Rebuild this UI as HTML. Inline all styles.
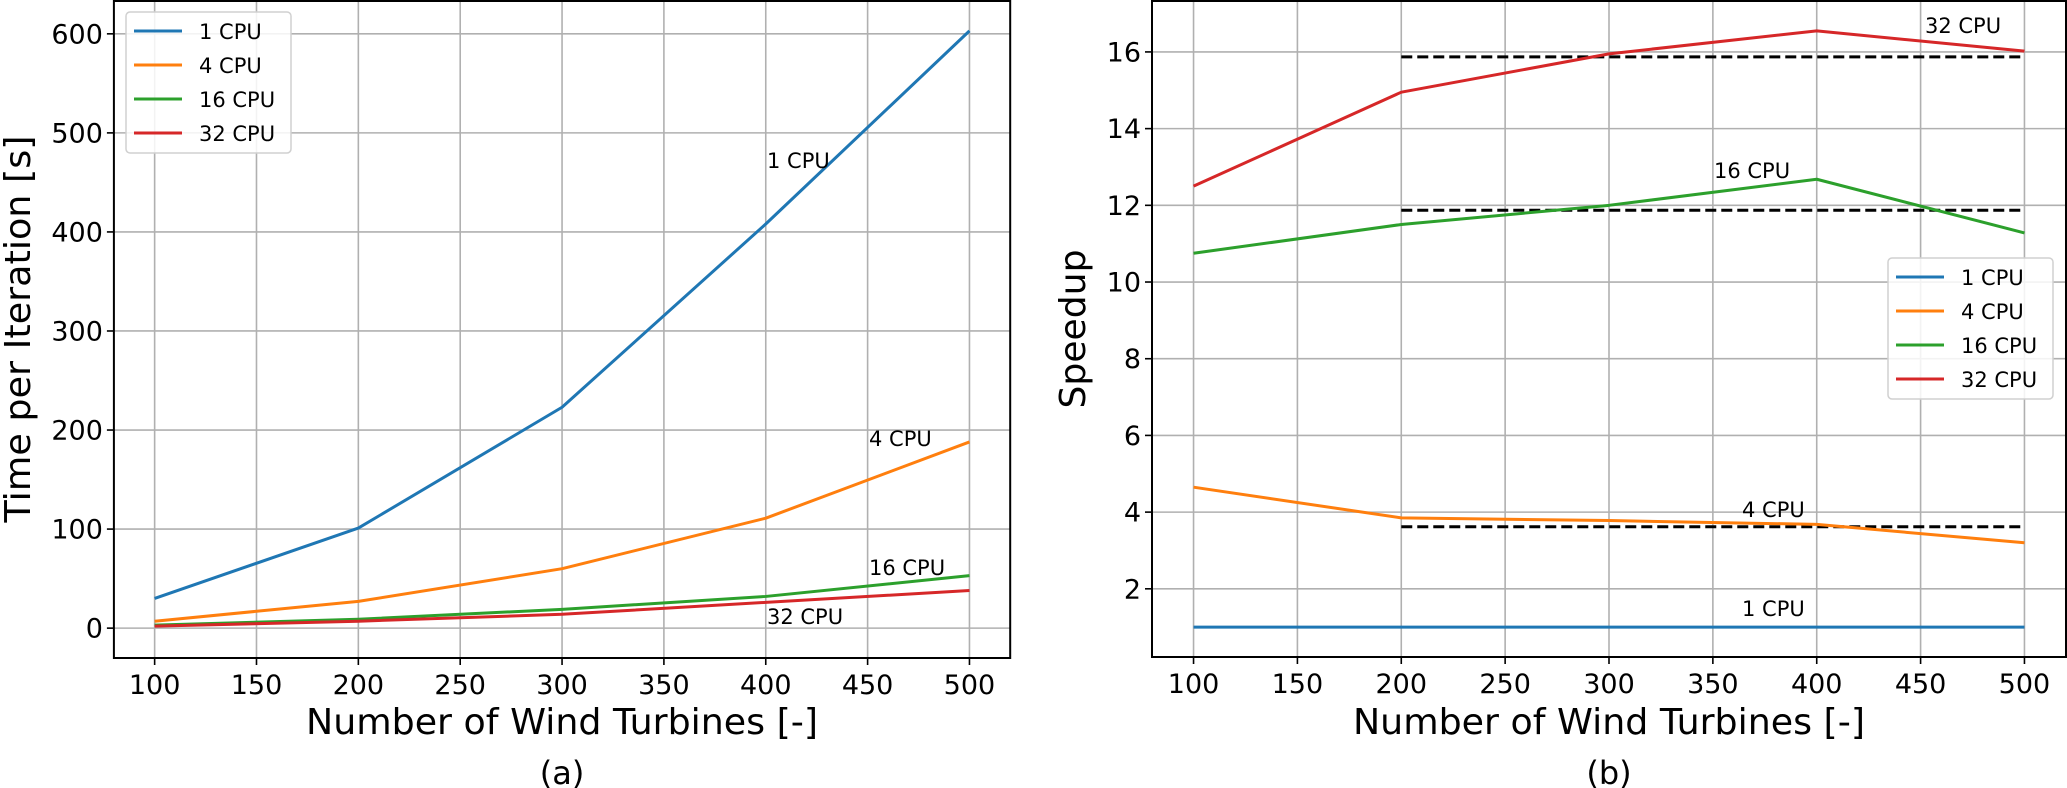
<!DOCTYPE html>
<html><head><meta charset="utf-8"><style>
html,body{margin:0;padding:0;background:#fff;}
svg{display:block;font-family:"DejaVu Sans","Liberation Sans",sans-serif;}
</style></head><body>
<svg id="fig" width="2067" height="788" viewBox="0 0 2067 788" xmlns="http://www.w3.org/2000/svg"></svg>
<script>
const xCats = [100, 200, 300, 400, 500];
const xTicks = [100, 150, 200, 250, 300, 350, 400, 450, 500];
const seriesNames = ["1 CPU", "4 CPU", "16 CPU", "32 CPU"];
const colors = ["#1f77b4", "#ff7f0e", "#2ca02c", "#d62728"];
const time1 = [30, 101, 223, 408, 603];
const time4 = [7, 27, 60, 111, 188];
const time16 = [3, 9, 19, 32, 53];
const time32 = [2, 7, 14, 26, 38];
const timeTicks = [0, 100, 200, 300, 400, 500, 600];
const speed1 = [1, 1, 1, 1, 1];
const speed4 = [4.65, 3.85, 3.78, 3.68, 3.2];
const speed16 = [10.75, 11.5, 12.0, 12.68, 11.28];
const speed32 = [12.5, 14.95, 15.95, 16.55, 16.02];
const speedTicks = [2, 4, 6, 8, 10, 12, 14, 16];
const idealX = [200, 500];
const idealVals = [15.87, 11.87, 3.62];

const NS = "http://www.w3.org/2000/svg";
const svg = document.getElementById("fig");
function mk(tag, attrs, parent){
  const e = document.createElementNS(NS, tag);
  for (const k in attrs) e.setAttribute(k, attrs[k]);
  (parent||svg).appendChild(e);
  return e;
}

function panel(cfg){
  const g = mk("g", {});
  
  
  const L=cfg.L, R=cfg.R, T=cfg.T, B=cfg.B;
  const sx = v => L + (v - cfg.xmin) / (cfg.xmax - cfg.xmin) * (R - L);
  const sy = v => B - (v - cfg.ymin) / (cfg.ymax - cfg.ymin) * (B - T);
  xTicks.forEach(t => {
    const l = mk("line", {x1:sx(t), x2:sx(t), y1:T, y2:B, stroke:"#b0b0b0", "stroke-width":1.6}, g);
    
    
    const tk = mk("line", {x1:sx(t), x2:sx(t), y1:B, y2:B+7, stroke:"#000", "stroke-width":1.6}, g);
    
    
    const tx = mk("text", {x:sx(t), y:B+36, "font-size":27, "text-anchor":"middle"}, g);
    tx.textContent = t;
    
    
  });
  cfg.yTicks.forEach(t => {
    const l = mk("line", {x1:L, x2:R, y1:sy(t), y2:sy(t), stroke:"#b0b0b0", "stroke-width":1.6}, g);
    
    
    const tk = mk("line", {x1:L-7, x2:L, y1:sy(t), y2:sy(t), stroke:"#000", "stroke-width":1.6}, g);
    
    
    const tx = mk("text", {x:L-11, y:sy(t)+9.5, "font-size":27, "text-anchor":"end"}, g);
    tx.textContent = t;
    
    
  });
  (cfg.ideal||[]).forEach(v => {
    const d = mk("line", {x1:sx(idealX[0]), x2:sx(idealX[1]), y1:sy(v), y2:sy(v), stroke:"#000", "stroke-width":3, "stroke-dasharray":"11,5"}, g);
    
    
  });
  cfg.series.forEach((s, i) => {
    const pts = xCats.map((x, j) => sx(x) + "," + sy(s[j])).join(" ");
    const p = mk("polyline", {points:pts, fill:"none", stroke:colors[i], "stroke-width":3, "stroke-linejoin":"round"}, g);
    
    
  });
  const fr = mk("rect", {x:L, y:T, width:R-L, height:B-T, fill:"none", stroke:"#000", "stroke-width":2}, g);
  
  
  cfg.annots.forEach((a, i) => {
    const t = mk("text", {x:a[0], y:a[1], "font-size":21}, g);
    t.textContent = seriesNames[a[2]];
    
    
  });
  const lg = mk("g", {}, g);
  
  
  const lx = cfg.legend[0], ly = cfg.legend[1];
  mk("rect", {x:lx, y:ly, width:165, height:141, rx:4, fill:"#fff", "fill-opacity":0.85, stroke:"#d0d0d0", "stroke-width":1.5}, lg);
  seriesNames.forEach((n, i) => {
    const yy = ly + 19 + i * 34;
    const ln = mk("line", {x1:lx+8, x2:lx+56, y1:yy, y2:yy, stroke:colors[i], "stroke-width":3}, lg);
    
    
    const t = mk("text", {x:lx+73, y:yy+8, "font-size":21}, lg);
    t.textContent = n;
    
    
  });
  const xl = mk("text", {x:(L+R)/2, y:734, "font-size":36, "text-anchor":"middle", textLength:512, lengthAdjust:"spacingAndGlyphs"}, g);
  xl.textContent = "Number of Wind Turbines [-]";
  
  
  const yl = mk("text", {x:0, y:0, "font-size":36, "text-anchor":"middle", textLength:cfg.ylabLen, lengthAdjust:"spacingAndGlyphs", transform:"translate(" + cfg.ylabX + ",329) rotate(-90)"}, g);
  yl.textContent = cfg.ylab;
  
  
  const cap = mk("text", {x:(L+R)/2, y:784, "font-size":32, "text-anchor":"middle"}, g);
  cap.textContent = cfg.caption;
  
  
}

panel({name:"time-panel", L:113.9, R:1010.2, T:1, B:658, xmin:80, xmax:520, ymin:-30.15, ymax:633.15,
  yTicks:timeTicks, series:[time1,time4,time16,time32],
  annots:[[767,168,0],[869,446,1],[869,575,2],[767,624,3]],
  legend:[126,12], ylab:"Time per Iteration [s]", ylabX:30, ylabLen:387, caption:"(a)"});

panel({name:"speedup-panel", L:1152, R:2066, T:1, B:657, xmin:80, xmax:520, ymin:0.222, ymax:17.328,
  yTicks:speedTicks, series:[speed1,speed4,speed16,speed32], ideal:idealVals,
  annots:[[1925,33,3],[1714,178,2],[1742,517,1],[1742,616,0]],
  legend:[1888,258], ylab:"Speedup", ylabX:1085, ylabLen:159, caption:"(b)"});
</script>
</body></html>
